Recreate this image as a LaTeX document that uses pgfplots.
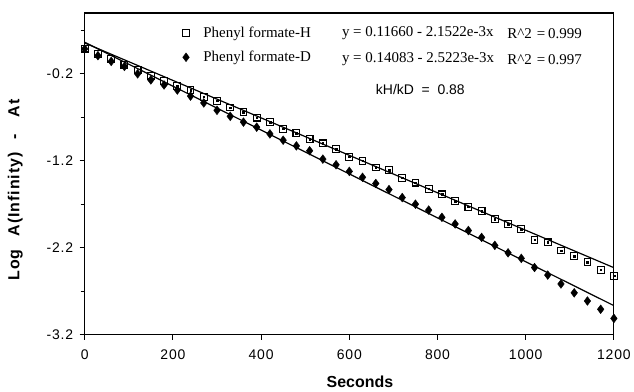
\documentclass[border=0pt]{standalone}
\usepackage{pgfplots}
\pgfplotsset{compat=1.18}
\usepackage{fontspec}
\setmainfont{Liberation Serif}
\setsansfont{Liberation Sans}
\begin{document}
\begin{tikzpicture}
\begin{axis}[
  scale only axis, width=531pt, height=323pt,
  xmin=0, xmax=1200, ymin=-3.2, ymax=0.5,
  axis line style={line width=1.1pt},
  xtick={0,200,400,600,800,1000,1200},
  ytick={-3.2,-2.2,-1.2,-0.2},
  yticklabels={-3.2,-2.2,-1.2,-0.2},
  minor ytick={-2.7,-1.7,-0.7,0.3},
  xtick pos=left, ytick pos=left,
  tick align=outside,
  major tick length=5pt, minor tick length=4pt,
  tick style={line width=0.9pt,black},
  /pgf/number format/assume math mode=true,
  /pgf/number format/1000 sep={},
  tick label style={font=\sffamily\fontsize{14}{16}\selectfont\addfontfeatures{LetterSpace=6}},
  xticklabel style={yshift=-6pt},
  yticklabel style={xshift=-3pt},
  xlabel={Seconds},
  ylabel={\addfontfeatures{LetterSpace=6}Log\hspace{13pt}A(Infinity)\hspace{13pt}-\hspace{17pt}At},
  label style={font=\sffamily\bfseries\fontsize{16}{18}\selectfont},
  xlabel style={at={(ticklabel cs:0.52)}},
  ylabel style={at={(ticklabel cs:0.45)}},
  xlabel shift=10pt, ylabel shift=17pt,
  legend style={draw=none, fill=none, at={(rel axis cs:0.179,0.97)}, anchor=north west,
    font=\fontsize{15}{17}\selectfont, row sep=8.5pt},
  legend cell align=left,
]
\addplot[only marks, mark=square, mark size=3.4pt, mark options={line width=1.1pt, fill=white, draw=black}] coordinates {
(0,0.09) (30,0.03) (60,-0.03) (90,-0.095) (120,-0.155) (150,-0.22) (180,-0.28)
(210,-0.340) (240,-0.386) (270,-0.464) (300,-0.510) (330,-0.587) (360,-0.638)
(390,-0.703) (420,-0.755) (450,-0.831) (480,-0.882) (510,-0.948) (540,-0.999)
(570,-1.064) (600,-1.153) (630,-1.200) (660,-1.276) (690,-1.309) (720,-1.394)
(750,-1.450) (780,-1.520) (810,-1.585) (840,-1.661) (870,-1.729) (900,-1.778)
(930,-1.872) (960,-1.925) (990,-1.985) (1020,-2.106) (1050,-2.137) (1080,-2.231)
(1110,-2.295) (1140,-2.363) (1170,-2.453) (1200,-2.521)
};
\addlegendentry{\hspace{12pt}Phenyl formate-H}
\addplot[only marks, mark=diamond*, mark size=4.4pt, mark options={fill=black, draw=black}] coordinates {
(0,0.087) (30,0.009) (60,-0.057) (90,-0.115) (120,-0.200) (150,-0.270) (180,-0.328)
(210,-0.386) (240,-0.456) (270,-0.534) (300,-0.619) (330,-0.688) (360,-0.755)
(390,-0.813) (420,-0.890) (450,-0.963) (480,-1.028) (510,-1.084) (540,-1.180)
(570,-1.245) (600,-1.321) (630,-1.389) (660,-1.460) (690,-1.530) (720,-1.622)
(750,-1.698) (780,-1.766) (810,-1.849) (840,-1.925) (870,-2.001) (900,-2.080)
(930,-2.171) (960,-2.257) (990,-2.321) (1020,-2.426) (1050,-2.513) (1080,-2.615)
(1110,-2.717) (1140,-2.811) (1170,-2.906) (1200,-3.011)
};
\addlegendentry{\hspace{12pt}Phenyl formate-D}
\addplot[forget plot, only marks, mark=square*, mark size=0.8pt, mark options={fill=black}] coordinates {
(210,-0.340) (240,-0.386) (270,-0.464) (300,-0.510) (330,-0.587) (360,-0.638)
(390,-0.703) (420,-0.755) (450,-0.831) (480,-0.882) (510,-0.948) (540,-0.999)
(570,-1.064) (600,-1.153) (630,-1.200) (660,-1.276) (690,-1.309) (720,-1.394)
(750,-1.450) (780,-1.520) (810,-1.585) (840,-1.661) (870,-1.729) (900,-1.778)
(930,-1.872) (960,-1.925) (990,-1.985) (1020,-2.106) (1050,-2.137) (1080,-2.231)
(1110,-2.295) (1140,-2.363) (1170,-2.453) (1200,-2.521)
};
\addplot[forget plot, black, line width=1.2pt] coordinates {(0,0.155) (1200,-2.428)};
\addplot[forget plot, black, line width=1.2pt] coordinates {(0,0.163) (1200,-2.864)};
\node[anchor=west, font=\fontsize{15}{17}\selectfont, inner sep=0pt] at (axis cs:583,0.265) {y = 0.11660 - 2.1522e-3x};
\node[anchor=west, font=\fontsize{15}{17}\selectfont, inner sep=0pt] at (axis cs:583,-0.035) {y = 0.14083 - 2.5223e-3x};
\node[anchor=west, font=\fontsize{15}{17}\selectfont, inner sep=0pt] at (axis cs:958,0.265) {R\textasciicircum 2\hspace{5pt}=\hspace{3pt}0.999};
\node[anchor=west, font=\fontsize{15}{17}\selectfont, inner sep=0pt] at (axis cs:958,-0.035) {R\textasciicircum 2\hspace{5pt}=\hspace{3pt}0.997};
\node[anchor=west, font=\sffamily\fontsize{14}{16}\selectfont, inner sep=0pt] at (axis cs:660,-0.38) {kH/kD\ \ =\ \ 0.88};
\end{axis}
\path[use as bounding box] (-85pt,-53pt) rectangle (549pt,336pt);
\end{tikzpicture}
\end{document}
